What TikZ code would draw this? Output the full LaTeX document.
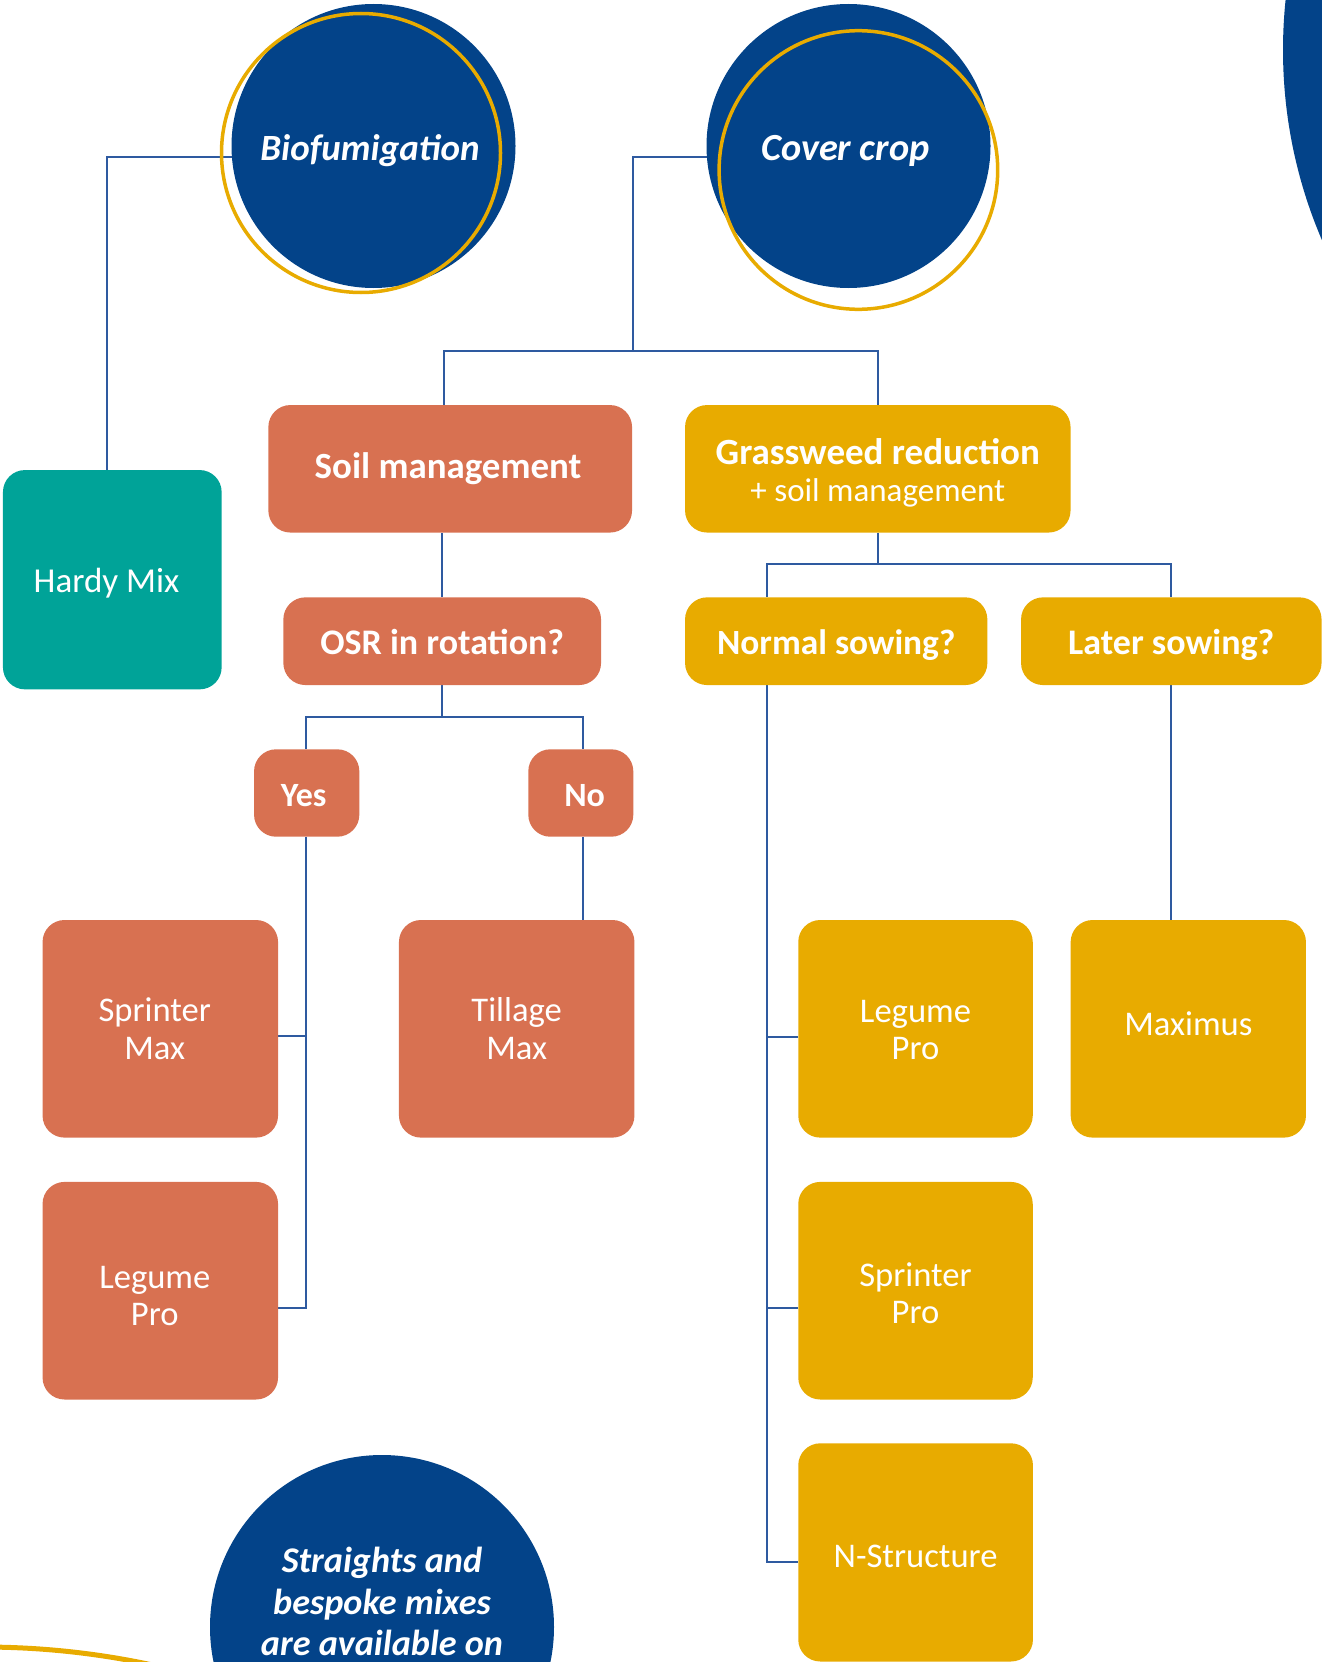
\documentclass[tikz,border=0pt]{standalone}
\usepackage{fontspec}
\setmainfont{Carlito}
\usetikzlibrary{backgrounds}
\definecolor{navy}{HTML}{034389}
\definecolor{gold}{HTML}{E8AB00}
\definecolor{terra}{HTML}{D87151}
\definecolor{tealbox}{HTML}{00A398}
\definecolor{linec}{HTML}{2E5AA0}
\begin{document}
\begin{tikzpicture}[x=1pt,y=-1pt,
  box/.style={rounded corners=22pt, inner sep=0pt},
  bigbox/.style={box, minimum width=235.5pt, minimum height=217.6pt},
  qbox/.style={box, minimum height=87.7pt},
  orangebox/.style={fill=terra},
  goldbox/.style={fill=gold},
  txt/.style={text=white, align=center, inner sep=0pt},
  bigtxt/.style={txt, font=\fontsize{34.6pt}{37.4pt}\selectfont},
  qtxt/.style={txt, font=\fontsize{36pt}{40pt}\selectfont\bfseries},
  circtxt/.style={txt, font=\bfseries\itshape},
  bluecirc/.style={circle, fill=navy, inner sep=0pt},
  ring/.style={circle, draw=gold, line width=3.5pt, inner sep=0pt},
  conn/.style={draw=linec, line width=2.3pt}
]
\useasboundingbox (0,0) rectangle (1322,1662);
\clip (0,0) rectangle (1322,1662);

% decorative shapes cut by the page edge
\fill[navy] (1765,50) circle[radius=482pt];
\draw[gold, line width=5pt] (-17,2447) circle[radius=800pt];

% circles
\node[bluecirc, minimum size=284pt] (bio) at (373.5,146) {};
\node[ring, minimum size=279pt] (biorng) at (361,153) {};
\node[circtxt, font=\fontsize{37pt}{40pt}\selectfont\bfseries\itshape] (biot) at (370,151) {Biofumigation};
\node[bluecirc, minimum size=284pt] (cover) at (848.5,146) {};
\node[ring, minimum size=278.6pt] (coverrng) at (858.4,170) {};
\node[circtxt, font=\fontsize{38.3pt}{40pt}\selectfont\bfseries\itshape] (covert) at (845.4,151) {Cover crop};
\node[bluecirc, minimum size=344pt] (str) at (382,1627) {};
\node[circtxt, font=\fontsize{36.2pt}{41.7pt}\selectfont\bfseries\itshape] (strtxt) at (382,1601.7) {Straights and\\bespoke mixes\\are available on};

% boxes
\node[box, fill=tealbox, minimum width=218.7pt, minimum height=219.3pt] (hardy) at (112.3,579.7) {};
\node[txt, font=\fontsize{35pt}{37pt}\selectfont] (hardyt) at (106.5,583) {Hardy Mix};
\node[box, orangebox, minimum width=363.7pt, minimum height=127.5pt] (soil) at (450.2,468.8) {};
\node[txt, font=\fontsize{36.9pt}{40pt}\selectfont\bfseries] (soilt) at (448,468.8) {Soil management};
\node[box, goldbox, minimum width=385.5pt, minimum height=127.5pt] (grass) at (877.8,468.8) {};
\node[txt, font=\fontsize{33pt}{37pt}\selectfont] (grasst) at (877.8,473) {{\fontsize{37pt}{37pt}\selectfont\bfseries Grassweed reduction}\\+ soil management};
\node[qbox, orangebox, minimum width=317.7pt] (osr) at (442.2,641.2) {};
\node[qtxt] (osrt) at (442.2,642.2) {OSR in rotation?};
\node[qbox, goldbox, minimum width=302.3pt] (normal) at (836.2,641.2) {};
\node[qtxt, font=\fontsize{35.4pt}{40pt}\selectfont\bfseries] (normalt) at (836.2,645.2) {Normal sowing?};
\node[qbox, goldbox, minimum width=300.5pt] (later) at (1171.3,641.2) {};
\node[qtxt] (latert) at (1171.3,645.2) {Later sowing?};
\node[qbox, orangebox, minimum width=105.3pt, minimum height=87.4pt] (yes) at (306.7,793) {};
\node[qtxt, font=\fontsize{34pt}{38pt}\selectfont\bfseries] (yest) at (303.7,796) {Yes};
\node[qbox, orangebox, minimum width=105pt, minimum height=87.4pt] (no) at (580.8,793) {};
\node[qtxt, font=\fontsize{34pt}{38pt}\selectfont\bfseries] (not) at (584.6,796) {No};
\node[bigbox, orangebox] (sprmax) at (160.3,1028.8) {};
\node[bigtxt] (sprmaxt) at (154.8,1028.8) {Sprinter\\Max};
\node[bigbox, orangebox] (tillage) at (516.7,1028.8) {};
\node[bigtxt] (tillaget) at (516.7,1028.8) {Tillage\\Max};
\node[bigbox, orangebox] (legl) at (160.3,1290.7) {};
\node[bigtxt] (leglt) at (154.8,1296) {Legume\\Pro};
\node[bigbox, goldbox, minimum width=234.5pt] (legr) at (915.5,1028.8) {};
\node[bigtxt] (legrt) at (915.5,1030) {Legume\\Pro};
\node[bigbox, goldbox, minimum width=234.5pt] (sprpro) at (915.5,1290.7) {};
\node[bigtxt] (sprprot) at (915.5,1293) {Sprinter\\Pro};
\node[bigbox, goldbox, minimum width=234.7pt, minimum height=218.2pt] (nstr) at (915.6,1552.4) {};
\node[bigtxt] (nstrt) at (915.6,1556.6) {N-Structure};
\node[bigbox, goldbox, minimum width=235.3pt] (maximus) at (1188.3,1028.8) {};
\node[bigtxt] (maximust) at (1188.3,1023.5) {Maximus};

% junction points
\coordinate (jc) at (633,351);
\coordinate (jo) at (442.2,717.3);
\coordinate (jg) at (877.8,564.3);
\coordinate (jn) at (767.3,564.3);

% connectors (behind everything)
\begin{scope}[on background layer]
\draw[conn] ([xshift=-5.6pt]hardy.north) |- ([yshift=-11pt]bio.center);
\draw[conn] ([yshift=-11pt]cover.center) -| (jc);
\draw[conn] ([xshift=-6.2pt]soil.north) |- (jc) -| (grass.north);
\draw[conn] (osr.north) -- (osr.north |- soil.south);
\draw[conn] (osr.south) -- (jo);
\draw[conn] ([xshift=-0.7pt]yes.north) |- (jo) -| ([xshift=2.2pt]no.north);
\draw[conn] ([xshift=-0.7pt]yes.south) |- ([yshift=-17.3pt]legl.east);
\draw[conn] ([yshift=-7.2pt]sprmax.east) -| ([xshift=-0.7pt]yes.south);
\draw[conn] ([xshift=2.2pt]no.south) -- ([xshift=2.2pt]no.south |- tillage.north);
\draw[conn] (grass.south) -- (jg);
\draw[conn] (later.north) |- (jn) -- (jn |- normal.north);
\draw[conn] (jn |- normal.south) |- ([yshift=-9.8pt]nstr.west);
\draw[conn] ([yshift=-8pt]legr.west) -| (jn |- normal.south);
\draw[conn] ([yshift=-17.3pt]sprpro.west) -| (jn |- normal.south);
\draw[conn] (later.south) -- (later.south |- maximus.north);
\end{scope}
\end{tikzpicture}
\end{document}
